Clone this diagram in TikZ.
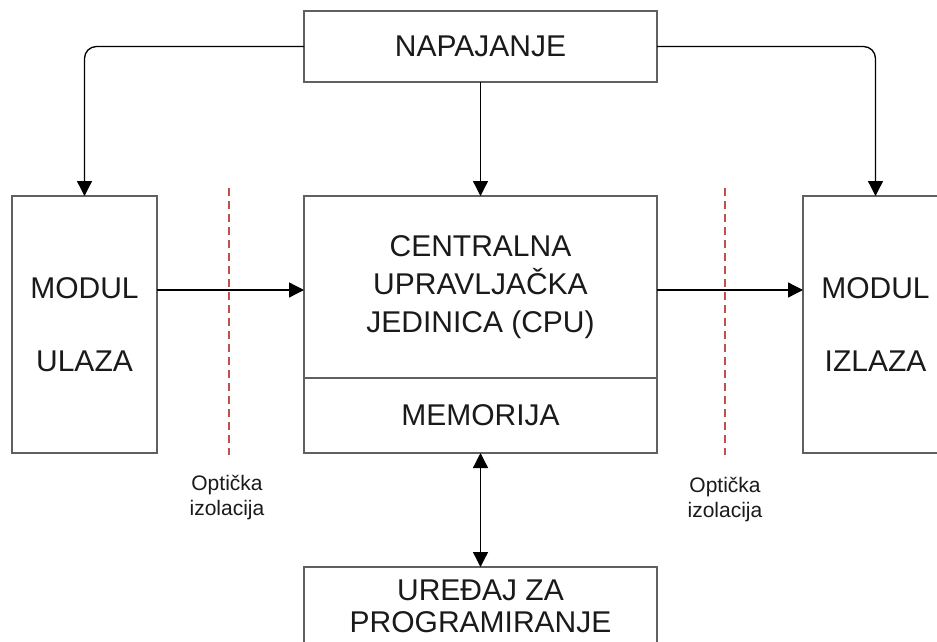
\documentclass[tikz,border=0pt]{standalone}
\usepackage{fontspec}
\setmainfont{Liberation Sans}
\usetikzlibrary{arrows.meta}
\definecolor{boxline}{HTML}{606060}
\definecolor{isol}{HTML}{C05050}
\definecolor{txt}{HTML}{1A1A1A}
\begin{document}
\begin{tikzpicture}[x=1pt,y=-1pt,
  blk/.style={draw=boxline,line width=1.5pt,fill=white,inner sep=0pt,outer sep=0pt,
              text=txt,align=center,font=\fontsize{30}{38}\selectfont},
  arr/.style={line width=1.3pt,draw=black,-{Triangle[width=15pt,length=15pt]}},
  darr/.style={line width=1.3pt,draw=black,{Triangle[width=15pt,length=15pt]}-{Triangle[width=15pt,length=15pt]}},
  iso/.style={draw=isol,line width=1.2pt,dash pattern=on 8pt off 5pt},
  lbl/.style={text=txt,align=center,font=\fontsize{21}{25}\selectfont,inner sep=0pt}]
\useasboundingbox (0,0) rectangle (937,641);
\fill[white] (0,0) rectangle (937,641);
% boxes
\node[blk,minimum width=353pt,minimum height=71pt] (nap) at (480.5,46.5) {NAPAJANJE};
\node[blk,minimum width=145pt,minimum height=257pt,font=\fontsize{30}{73}\selectfont] (modin) at (84.5,324.5) {MODUL\\ULAZA};
\node[blk,minimum width=145pt,minimum height=257pt,font=\fontsize{30}{73}\selectfont] (modout) at (875.5,324.5) {MODUL\\IZLAZA};
\node[blk,minimum width=353pt,minimum height=182pt] (cpu) at (480.5,287) {CENTRALNA\\UPRAVLJAČKA\\JEDINICA (CPU)};
\node[blk,minimum width=353pt,minimum height=75pt] (mem) at (480.5,415.5) {MEMORIJA};
\node[blk,minimum width=353pt,minimum height=78pt,font=\fontsize{30}{32}\selectfont] (ured) at (480.5,606) {UREĐAJ ZA\\PROGRAMIRANJE};
% isolation lines
\coordinate (isoLtop) at (229,188);
\coordinate (isoLbot) at (229,455);
\coordinate (isoRtop) at (725,188);
\coordinate (isoRbot) at (725,455);
\draw[iso] (isoLtop) -- (isoLbot);
\draw[iso] (isoRtop) -- (isoRbot);
\node[lbl] (labL) at (227,498) {Optička\\izolacija};
\node[lbl] (labR) at (725,500) {Optička\\izolacija};
% connectors
\draw[arr,rounded corners=12pt] (nap.west) -| (modin.north);
\draw[arr,rounded corners=12pt] (nap.east) -| (modout.north);
\draw[arr] (nap.south) -- (cpu.north);
\draw[arr] (modin.east |- 0,290) -- (cpu.west |- 0,290);
\draw[arr] (cpu.east |- 0,290) -- (modout.west |- 0,290);
\draw[darr] (mem.south) -- (ured.north);
\end{tikzpicture}
\end{document}
